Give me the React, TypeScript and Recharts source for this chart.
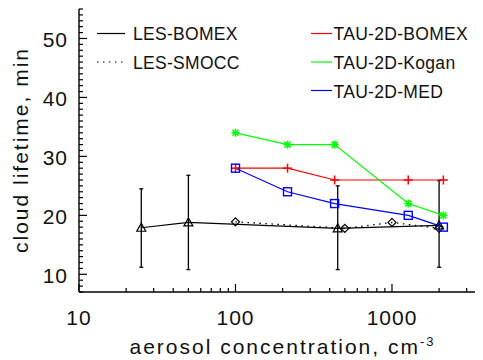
import React from 'react';
import { LineChart, Line, XAxis, YAxis, ErrorBar } from 'recharts';

// ---- data ----
const lesBomexX = [25, 50, 450, 2000];
const lesBomexY = [17.9, 18.8, 17.8, 18.3];
const lesBomexLow = [11.2, 10.8, 10.8, 11.2];
const lesBomexHigh = [24.5, 26.8, 25.0, 25.9];

const lesSmoccX = [100, 500, 1000, 2000];
const lesSmoccY = [18.9, 17.8, 18.8, 17.8];

const tauX = [100, 215, 430, 1270, 2130];
const tauBomexY = [28, 28, 26, 26, 26];
const tauKoganY = [34, 32, 32, 22, 20];
const tauMedY = [28, 24, 22, 20, 18];

const xTickValues = [10, 20, 30, 40, 50, 60, 70, 80, 90, 100, 200, 300, 400, 500, 600, 700, 800, 900, 1000, 2000, 3000];
const xMajorTicks = [10, 100, 1000];
const yTickValues = [7, 8, 9, 10, 11, 12, 13, 14, 15, 16, 17, 18, 19, 20, 21, 22, 23, 24, 25, 26, 27, 28, 29, 30, 31, 32, 33, 34, 35, 36, 37, 38, 39, 40, 41, 42, 43, 44, 45, 46, 47, 48, 49, 50, 51, 52, 53, 54, 55];
const yMajorTicks = [10, 20, 30, 40, 50];

const xDomain = [10, 3760];
const yDomain = [7, 55];

const legendLeftNames = ['LES-BOMEX', 'LES-SMOCC'];
const legendLeftDash = ['', '1.5 4.5'];
const legendRightNames = ['TAU-2D-BOMEX', 'TAU-2D-Kogan', 'TAU-2D-MED'];
const legendRightColors = ['#ff0000', '#00ff00', '#0000ff'];

const xTitle = 'aerosol concentration, cm';
const xTitleSup = '-3';
const yTitle = 'cloud lifetime, min';

// ---- tables ----
const lesBomexData = lesBomexX.map((x, i) => ({
  x,
  y: lesBomexY[i],
  err: [lesBomexY[i] - lesBomexLow[i], lesBomexHigh[i] - lesBomexY[i]],
}));
const lesSmoccData = lesSmoccX.map((x, i) => ({ x, y: lesSmoccY[i] }));
const tauBomexData = tauX.map((x, i) => ({ x, y: tauBomexY[i] }));
const tauKoganData = tauX.map((x, i) => ({ x, y: tauKoganY[i] }));
const tauMedData = tauX.map((x, i) => ({ x, y: tauMedY[i] }));

const FONT = '"Liberation Sans", Arial, Helvetica, sans-serif';
const W = 475;
const H = 352;

// ---- markers ----
const TriangleDot = (p: any) => {
  const { cx, cy, index } = p;
  if (cx == null || cy == null) return <g key={`tri${index}`} />;
  return (
    <polygon
      key={`tri${index}`}
      points={`${cx},${cy - 4.5} ${cx - 4.5},${cy + 3.5} ${cx + 4.5},${cy + 3.5}`}
      fill="none"
      stroke="#000"
      strokeWidth={1.2}
    />
  );
};
const DiamondDot = (p: any) => {
  const { cx, cy, index } = p;
  if (cx == null || cy == null) return <g key={`dia${index}`} />;
  return (
    <polygon
      key={`dia${index}`}
      points={`${cx},${cy - 4} ${cx + 4},${cy} ${cx},${cy + 4} ${cx - 4},${cy}`}
      fill="none"
      stroke="#000"
      strokeWidth={1.2}
    />
  );
};
const PlusDot = (p: any) => {
  const { cx, cy, index } = p;
  if (cx == null || cy == null) return <g key={`pl${index}`} />;
  return (
    <g key={`pl${index}`} stroke="#ff0000" strokeWidth={1.5}>
      <line x1={cx - 4.5} y1={cy} x2={cx + 4.5} y2={cy} />
      <line x1={cx} y1={cy - 4.5} x2={cx} y2={cy + 4.5} />
    </g>
  );
};
const StarDot = (p: any) => {
  const { cx, cy, index } = p;
  if (cx == null || cy == null) return <g key={`st${index}`} />;
  return (
    <g key={`st${index}`} stroke="#00ff00" strokeWidth={1.5}>
      <line x1={cx - 4} y1={cy} x2={cx + 4} y2={cy} />
      <line x1={cx} y1={cy - 4} x2={cx} y2={cy + 4} />
      <line x1={cx - 3} y1={cy - 3} x2={cx + 3} y2={cy + 3} />
      <line x1={cx - 3} y1={cy + 3} x2={cx + 3} y2={cy - 3} />
    </g>
  );
};
const SquareDot = (p: any) => {
  const { cx, cy, index } = p;
  if (cx == null || cy == null) return <g key={`sq${index}`} />;
  return (
    <rect key={`sq${index}`} x={cx - 4} y={cy - 4} width={8} height={8} fill="none" stroke="#0000ff" strokeWidth={1.4} />
  );
};

// ---- ticks ----
const BottomTick = (p: any) => {
  const { x, y, payload } = p;
  const v = payload.value;
  const major = xMajorTicks.includes(v);
  return (
    <g>
      <line x1={x} y1={y} x2={x} y2={y - (major ? 8 : 4)} stroke="#000" strokeWidth={1.2} />
      {major && (
        <text x={x} y={y + 33} textAnchor="middle" fontSize={21} fontFamily={FONT} fill="#111" letterSpacing={1}>
          {v}
        </text>
      )}
    </g>
  );
};
const TopTick = (p: any) => {
  const { x, y, payload } = p;
  const major = xMajorTicks.includes(payload.value);
  return <line x1={x} y1={y} x2={x} y2={y + (major ? 8 : 4)} stroke="#000" strokeWidth={1.2} />;
};
const LeftTick = (p: any) => {
  const { x, y, payload } = p;
  const v = payload.value;
  const major = yMajorTicks.includes(v);
  return (
    <g>
      <line x1={x} y1={y} x2={x + (major ? 8 : 4)} y2={y} stroke="#000" strokeWidth={1.2} />
      {major && (
        <text x={x - 11} y={y + 8.5} textAnchor="end" fontSize={21} fontFamily={FONT} fill="#111" letterSpacing={1}>
          {v}
        </text>
      )}
    </g>
  );
};
const RightTick = (p: any) => {
  const { x, y, payload } = p;
  const major = yMajorTicks.includes(payload.value);
  return <line x1={x} y1={y} x2={x - (major ? 8 : 4)} y2={y} stroke="#000" strokeWidth={1.2} />;
};

const XTitle = (p: any) => {
  const vb = p.viewBox || { x: 71, y: 284, width: 403, height: 67 };
  const cx = vb.x + vb.width / 2;
  return (
    <text x={cx + 2} y={vb.y + 62} textAnchor="middle" fontSize={21} fontFamily={FONT} fill="#111" letterSpacing={2}>
      {xTitle}
      <tspan fontSize={13} dy={-8}>{xTitleSup}</tspan>
    </text>
  );
};

const Legend = () => (
  <svg width={W} height={H} style={{ position: 'absolute', left: 0, top: 0, pointerEvents: 'none' }}>
    {legendLeftNames.map((n, i) => (
      <g key={n}>
        <line
          x1={89}
          x2={117}
          y1={25.5 + i * 28.5}
          y2={25.5 + i * 28.5}
          stroke="#000"
          strokeWidth={1.2}
          strokeDasharray={legendLeftDash[i] || undefined}
        />
        <text x={125} y={31.5 + i * 29} fontSize={17.5} fontFamily={FONT} fill="#111" letterSpacing={0.3}>
          {n}
        </text>
      </g>
    ))}
    {legendRightNames.map((n, i) => (
      <g key={n}>
        <line x1={303} x2={324} y1={25.5 + i * 28.5} y2={25.5 + i * 28.5} stroke={legendRightColors[i]} strokeWidth={1.2} />
        <text x={325.5} y={31.5 + i * 29} fontSize={17.5} fontFamily={FONT} fill="#111" letterSpacing={0.3}>
          {n}
        </text>
      </g>
    ))}
    <text
      x={20}
      y={142}
      transform="rotate(-90 20 142)"
      textAnchor="middle"
      fontSize={21}
      fontFamily={FONT}
      fill="#111"
      letterSpacing={2}
    >
      {yTitle}
    </text>
  </svg>
);

export default function App() {
  return (
    <div style={{ position: 'relative', width: W, height: H, background: '#fff' }}>
      <LineChart width={W} height={H} margin={{ top: 1, right: 1, left: 0, bottom: 1 }}>
        <XAxis
          dataKey="x"
          type="number"
          scale="log"
          domain={xDomain}
          allowDataOverflow
          ticks={xTickValues}
          interval={0}
          tick={<BottomTick />}
          tickLine={false}
          tickSize={0}
          tickMargin={0}
          height={67}
          axisLine={{ stroke: '#000', strokeWidth: 1.4 }}
          label={<XTitle />}
        />
        <XAxis
          xAxisId="top"
          orientation="top"
          dataKey="x"
          type="number"
          scale="log"
          domain={xDomain}
          allowDataOverflow
          ticks={xTickValues}
          interval={0}
          tick={<TopTick />}
          tickLine={false}
          tickSize={0}
          tickMargin={0}
          height={0}
          axisLine={{ stroke: '#000', strokeWidth: 1.4 }}
        />
        <YAxis
          type="number"
          domain={yDomain}
          allowDataOverflow
          ticks={yTickValues}
          interval={0}
          tick={<LeftTick />}
          tickLine={false}
          tickSize={0}
          tickMargin={0}
          width={71}
          axisLine={{ stroke: '#000', strokeWidth: 1.4 }}
        />
        <YAxis
          yAxisId="right"
          orientation="right"
          type="number"
          domain={yDomain}
          allowDataOverflow
          ticks={yTickValues}
          interval={0}
          tick={<RightTick />}
          tickLine={false}
          tickSize={0}
          tickMargin={0}
          width={0}
          axisLine={{ stroke: '#000', strokeWidth: 1.4 }}
        />
        <Line
          data={lesBomexData}
          dataKey="y"
          type="linear"
          stroke="#000"
          strokeWidth={1.2}
          dot={TriangleDot}
          activeDot={false}
          isAnimationActive={false}
        >
          <ErrorBar dataKey="err" direction="y" width={2} stroke="#000" strokeWidth={1.3} isAnimationActive={false} />
        </Line>
        <Line
          data={lesSmoccData}
          dataKey="y"
          type="linear"
          stroke="#000"
          strokeWidth={1.3}
          strokeDasharray="1.5 4.5"
          dot={DiamondDot}
          activeDot={false}
          isAnimationActive={false}
        />
        <Line
          data={tauBomexData}
          dataKey="y"
          type="linear"
          stroke="#ff0000"
          strokeWidth={1.2}
          dot={PlusDot}
          activeDot={false}
          isAnimationActive={false}
        />
        <Line
          data={tauKoganData}
          dataKey="y"
          type="linear"
          stroke="#00ff00"
          strokeWidth={1.2}
          dot={StarDot}
          activeDot={false}
          isAnimationActive={false}
        />
        <Line
          data={tauMedData}
          dataKey="y"
          type="linear"
          stroke="#0000ff"
          strokeWidth={1.2}
          dot={SquareDot}
          activeDot={false}
          isAnimationActive={false}
        />
      </LineChart>
      <Legend />
    </div>
  );
}
